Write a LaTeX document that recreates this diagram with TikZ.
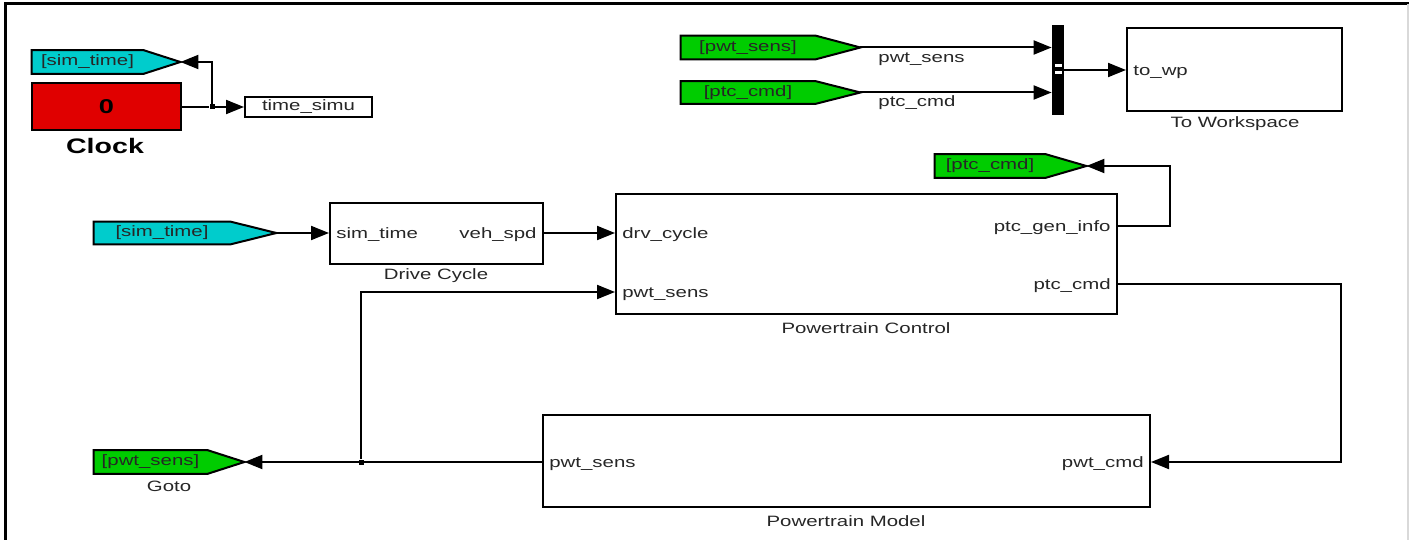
\documentclass[tikz,border=0pt]{standalone}
\usepackage{fontspec}
\setmainfont{Liberation Sans}[FakeStretch=1.36]
\usetikzlibrary{arrows.meta}
\usetikzlibrary{calc}
\pgfdeclarelayer{bg}
\pgfsetlayers{bg,main}

\definecolor{gotocyan}{RGB}{0,204,204}
\definecolor{gotogreen}{RGB}{0,204,0}
\definecolor{clockred}{RGB}{224,0,0}

\begin{document}
\begin{tikzpicture}[x=0.5pt, y=-0.5pt,
        every node/.style={font=\fontsize{7.5pt}{9pt}\selectfont, inner sep=0pt, text=black!85},
        blk/.style={draw, rectangle, line width=1pt},
        gototag/.style={rectangle, minimum height=11.5pt},
        jdot/.style={rectangle, fill=black, minimum size=2.5pt},
        wire/.style={line width=1pt},
        arw/.style={wire, -{Triangle[length=9pt, width=7pt]}}]
        \useasboundingbox (0,0) rectangle (1409,540);
        \draw[line width=1.5pt] (5,540) -- (5,4) -- (1409,4);
        \draw[black!15, line width=0.6pt] (1408,4) -- (1408,540);

        % clock corner
        \node[gototag, minimum width=55.5pt] (goto_1) at (87.5,62) {[sim\_time]};
        \node[blk, fill=clockred, minimum width=74.5pt, minimum height=23.5pt, text=black, font=\bfseries\fontsize{10pt}{11pt}\selectfont] (clk) at (106.5,107) {0};
        \node[text=black, font=\bfseries\fontsize{10.5pt}{12pt}\selectfont] (clk_lbl) at (105,146) {Clock};
        \node[jdot] (j_1) at (212,107) {};
        \node[blk, minimum width=63.5pt, minimum height=10pt] (ts) at (308.5,107) {time\_simu};

        % logging to workspace
        \node[gototag, minimum width=67pt] (goto_2) at (748,47.5) {[pwt\_sens]};
        \node[gototag, minimum width=67pt, minimum height=11pt] (goto_3) at (748,92.5) {[ptc\_cmd]};
        \node[fill=black, minimum width=6pt, minimum height=45pt] (mux) at (1058,70) {};
        \fill[white] (1055,64) rectangle (1062,67);
        \fill[white] (1055,71) rectangle (1062,74);
        \node[anchor=west] (sig_1) at (878,59) {pwt\_sens};
        \node[anchor=west] (sig_2) at (878,103) {ptc\_cmd};
        \node[blk, minimum width=107.5pt, minimum height=41.5pt] (tw) at (1234.5,70) {};
        \node[anchor=west] (tw_in) at (1133,72) {to\_wp};
        \node (tw_lbl) at (1235,124) {To Workspace};

        % drive cycle and controller
        \node[gototag, minimum width=68pt, minimum height=11pt] (goto_4) at (162,233) {[sim\_time]};
        \node[blk, minimum width=106.5pt, minimum height=30.5pt] (dc) at (436.5,233) {};
        \node[anchor=west] (dc_in) at (336,235) {sim\_time};
        \node[anchor=east] (dc_out) at (537,235) {veh\_spd};
        \node (dc_lbl) at (436,276) {Drive Cycle};

        \node[blk, minimum width=250.5pt, minimum height=60pt] (pc) at (866.5,254) {};
        \node[anchor=west] (pc_in1) at (622,235) {drv\_cycle};
        \node[anchor=west] (pc_in2) at (622,294) {pwt\_sens};
        \node[anchor=east] (pc_out1) at (1111,228) {ptc\_gen\_info};
        \node[anchor=east] (pc_out2) at (1111,286) {ptc\_cmd};
        \node (pc_lbl) at (866,328) {Powertrain Control};
        \node[gototag, minimum width=55pt] (goto_5) at (990,166) {[ptc\_cmd]};

        % plant
        \node[blk, minimum width=303.5pt, minimum height=46pt] (pm) at (846.5,461) {};
        \node[anchor=west] (pm_in) at (549,464) {pwt\_sens};
        \node[anchor=east] (pm_out) at (1144,464) {pwt\_cmd};
        \node (pm_lbl) at (846,521) {Powertrain Model};
        \node[gototag, minimum width=56.5pt] (goto_6) at (150.5,462) {[pwt\_sens]};
        \node (goto_6_lbl) at (169,486) {Goto};
        \node[jdot] (j_2) at (361,462) {};

        \foreach \g/\t in {1/37,2/45,3/45,4/46,5/41,6/37} {
            \coordinate (goto_\g_tip) at ([xshift=\t*0.5pt]goto_\g.east);
        }
        \begin{pgfonlayer}{bg}
            \foreach \g/\c in {1/gotocyan,2/gotogreen,3/gotogreen,4/gotocyan,5/gotogreen,6/gotogreen} {
                \filldraw[fill=\c, line width=1pt] (goto_\g.north west) -- (goto_\g.north east) -- (goto_\g_tip) -- (goto_\g.south east) -- (goto_\g.south west) -- cycle;
            }
        \end{pgfonlayer}

        \coordinate (bend_1) at (1170,226);
        \coordinate (bend_2) at (1341,284);

        \draw[wire] (clk.east) -- (j_1);
        \draw[arw] (j_1) -- (ts.west);
        \draw[arw] (j_1) |- (goto_1_tip);
        \draw[arw] (goto_2_tip) -- (mux.west |- goto_2_tip);
        \draw[arw] (goto_3_tip) -- (mux.west |- goto_3_tip);
        \draw[arw] (mux.east) -- (tw.west);
        \draw[arw] (goto_4_tip) -- (dc.west);
        \draw[arw] (dc.east) -- (pc.west |- dc.east);
        \draw[arw] (pc.east |- bend_1) -- (bend_1) |- (goto_5_tip);
        \draw[arw] (pc.east |- bend_2) -- (bend_2) |- (pm.east |- j_2);
        \draw[arw] (pm.west |- j_2) -- (goto_6_tip);
        \draw[arw] (j_2) |- (pc.west |- 0,292);
\end{tikzpicture}
\end{document}
